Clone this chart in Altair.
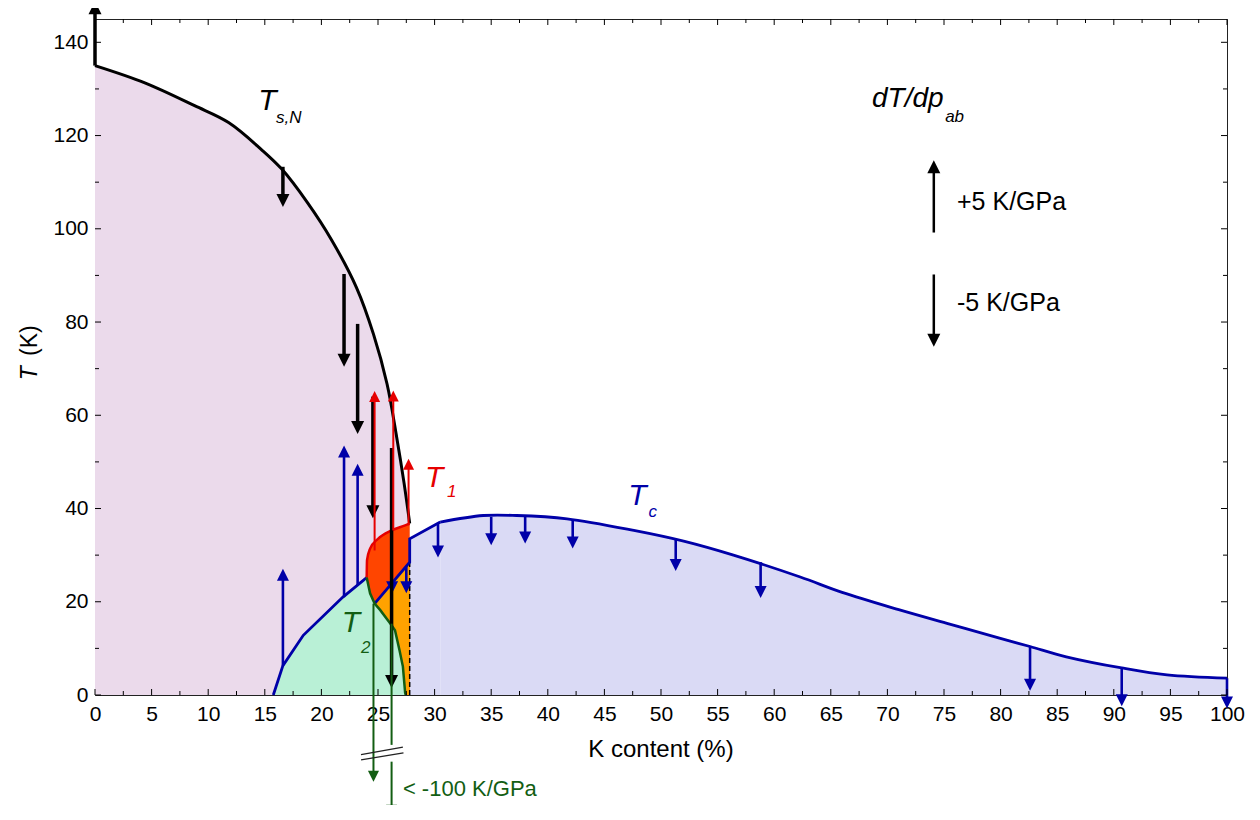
import altair as alt
import pandas as pd

# ---------------- data ----------------
# T_s,N line (K content %, T in K)
ts_x = [0, 4.4, 8.8, 11.8, 14.7, 16.5, 18.8, 20.9, 23.1, 24.6, 25.8, 26.65, 27.3, 27.8]
ts_T = [135, 131.3, 126.4, 122.8, 117.0, 112.8, 105.5, 97.6, 87.4, 77.4, 66.7, 55.3, 45.5, 36.8]

# T_c, low-doping branch
tcl_x = [15.75, 16.6, 18.4, 21.9, 23.7, 24.0]
tcl_T = [0, 6.3, 12.8, 21.0, 24.6, 25.2]

# T_c inside the coexistence region
tcm_x = [24.7, 27.8, 27.8, 30.5]
tcm_T = [19.6, 28.5, 33.5, 37.1]

# T_c, high-doping branch
tcu_x = [30.5, 34.3, 37.25, 41.7, 47.6, 52.0, 56.4, 62.3, 66.0, 71.0, 75.5, 79.9, 82.6, 85.8, 90.7, 94.7, 100]
tcu_T = [37.1, 38.5, 38.5, 37.8, 35.3, 33.0, 30.0, 25.3, 22.0, 18.3, 15.2, 12.2, 10.4, 8.2, 5.8, 4.3, 3.6]

# T_1 and T_2
t1_x = [24.0, 24.03, 24.3, 25.0, 26.2, 27.4, 27.8]
t1_T = [25.2, 28.9, 31.4, 33.5, 35.3, 36.4, 36.8]
t2_x = [24.0, 24.3, 24.7, 25.2, 26.1, 26.5, 26.9, 27.2, 27.4, 27.45]
t2_T = [25.2, 21.8, 19.6, 18.2, 15.3, 13.9, 9.6, 6.1, 0.4, 0]

# dT/dp arrows (x, start T, end T)
ts_arr_x = [0, 16.6, 22.0, 23.2, 24.55, 26.2]
ts_arr_from = [135, 113.3, 90.3, 79.6, 64.0, 53.0]
ts_arr_to = [148.8, 104.7, 70.4, 56.0, 37.9, 1.5]

t1_arr_x = [24.7, 26.35, 27.7]
t1_arr_from = [31.0, 35.3, 36.4]
t1_arr_to = [65.2, 65.3, 50.7]

t2_arr_x = [24.6, 26.2]
t2_arr_from = [19.6, 15.3]
t2_arr_to = [-18.6, -25.9]
t2_gap = [-10.7, -14.3]          # axis break on the second arrow

tc_arr_x = [16.6, 22.0, 23.2, 26.25, 27.5, 30.3, 35.0, 38.0, 42.2, 51.3, 58.8, 82.6, 90.7, 100]
tc_arr_from = [6.3, 21.0, 23.6, 24.05, 27.6, 36.8, 38.2, 38.2, 37.6, 33.6, 28.5, 10.4, 5.8, 3.6]
tc_arr_to = [27.1, 53.5, 49.6, 21.8, 21.8, 29.5, 32.1, 32.5, 31.4, 26.6, 20.8, 0.9, -2.4, -2.9]

key_arr_x = [74.1, 74.1]
key_arr_from = [99.2, 90.2]
key_arr_to = [114.7, 74.7]

brk_x1 = [23.5, 23.5]
brk_x2 = [27.2, 27.25]
brk_T1 = [-12.8, -13.9]
brk_T2 = [-11.2, -12.4]

x_ticks = [0, 5, 10, 15, 20, 25, 30, 35, 40, 45, 50, 55, 60, 65, 70, 75, 80, 85, 90, 95, 100]
x_minor = [2.5, 7.5, 12.5, 17.5, 22.5, 27.5, 32.5, 37.5, 42.5, 47.5, 52.5, 57.5, 62.5, 67.5,
           72.5, 77.5, 82.5, 87.5, 92.5, 97.5]
y_ticks = [0, 20, 40, 60, 80, 100, 120, 140]
y_minor = [10, 30, 50, 70, 90, 110, 130]

# ---------------- styling ----------------
W, H = 1132, 676
X_DOM, Y_DOM = [0, 100], [0, 145]
PX_PER_K = H / (Y_DOM[1] - Y_DOM[0])
FONT = "Liberation Sans"

C_PINK = "#ebdaeb"
C_MINT = "#b9f0d6"
C_LAV = "#dadaf5"
C_RED = "#ff4500"
C_ORANGE = "#ffa200"
C_BLUE = "#0000a8"
C_REDLINE = "#e60000"
C_GREEN = "#135e13"

UP = "M-1,2L1,2L0,0Z"
DOWN = "M-1,-2L1,-2L0,0Z"

xs = alt.Scale(domain=X_DOM, nice=False, zero=False)
ys = alt.Scale(domain=Y_DOM, nice=False, zero=False)
x_axis = alt.Axis(values=x_ticks, ticks=False, domain=False, grid=False, title=None,
                  labelFont=FONT, labelFontSize=21, labelColor="black", labelPadding=8,
                  labelFlush=False, labelOverlap=False)
y_axis = alt.Axis(values=y_ticks, ticks=False, domain=False, grid=False, title=None,
                  labelFont=FONT, labelFontSize=21, labelColor="black", labelPadding=7,
                  labelFlush=False, labelOverlap=False)


def X(f="x"):
    return alt.X(f"{f}:Q", scale=xs, axis=x_axis)


def Y(f="y"):
    return alt.Y(f"{f}:Q", scale=ys, axis=y_axis)


def curve_df(xv, tv):
    return pd.DataFrame({"x": xv, "y": tv, "z": [0] * len(xv), "i": list(range(len(xv)))})


def area(xv, tv, color, interp="linear"):
    return alt.Chart(curve_df(xv, tv)).mark_area(fill=color, opacity=1, interpolate=interp).encode(
        x=X(), y=Y(), y2=alt.Y2("z:Q"))


def line(xv, tv, color, width, interp="linear", ordered=False):
    enc = dict(x=X(), y=Y())
    if ordered:
        enc["order"] = "i:Q"
    return alt.Chart(curve_df(xv, tv)).mark_line(color=color, strokeWidth=width, interpolate=interp).encode(**enc)


def arrows(xv, y0, y1, color, width, head, gap=None):
    hl = head / PX_PER_K * 0.85
    rows = []
    heads = []
    for k, (a, b, c) in enumerate(zip(xv, y0, y1)):
        d = "up" if c > b else "down"
        s = 1 if c > b else -1
        end = c - s * hl
        if gap is not None and gap[k] is not None:
            g1, g2 = gap[k]
            rows.append({"x": a, "y1": b, "y2": g1})
            rows.append({"x": a, "y1": g2, "y2": end})
        else:
            rows.append({"x": a, "y1": b, "y2": end})
        heads.append({"x": a, "y": c, "dir": d})
    r = alt.Chart(pd.DataFrame(rows)).mark_rule(color=color, strokeWidth=width, strokeCap="butt").encode(
        x=X(), y=Y("y1"), y2=alt.Y2("y2:Q"))
    h = alt.Chart(pd.DataFrame(heads)).mark_point(filled=True, color=color, opacity=1, size=head * head,
                                                    strokeWidth=0).encode(
        x=X(), y=Y(),
        shape=alt.Shape("dir:N", scale=alt.Scale(domain=["up", "down"], range=[UP, DOWN]), legend=None))
    return [r, h]


def text(t, x, y, size, color="black", italic=False, align="left", baseline="alphabetic", angle=0):
    df = pd.DataFrame({"x": [x], "y": [y], "t": [t]})
    kw = dict(font=FONT, fontSize=size, color=color, align=align, baseline=baseline)
    if italic:
        kw["fontStyle"] = "italic"
    if angle:
        kw["angle"] = angle
    return alt.Chart(df).mark_text(**kw).encode(x=X(), y=Y(), text="t:N")


layers = []

# filled regions
layers.append(area(ts_x, ts_T, C_PINK, "catmull-rom"))
layers.append(area(tcm_x[2:], tcm_T[2:], C_LAV))
layers.append(area(tcu_x, tcu_T, C_LAV, "catmull-rom"))
layers.append(area(t1_x, t1_T, C_RED, "monotone"))
layers.append(area(tcm_x[:2], tcm_T[:2], C_ORANGE))
layers.append(area(tcl_x + t2_x[1:], tcl_T + t2_T[1:], C_MINT))

# dashed boundary
layers.append(alt.Chart(pd.DataFrame({"x": [tcm_x[1]], "y1": [0], "y2": [tcm_T[1]]})).mark_rule(
    color="black", strokeWidth=1.5, strokeDash=[5, 3]).encode(x=X(), y=Y("y1"), y2=alt.Y2("y2:Q")))

# lines
layers.append(line(ts_x, ts_T, "black", 3, "catmull-rom"))
layers.append(line(tcl_x, tcl_T, C_BLUE, 2.8))
layers.append(line(tcm_x, tcm_T, C_BLUE, 2.8, ordered=True))
layers.append(line(tcu_x, tcu_T, C_BLUE, 2.8, "catmull-rom"))
layers.append(line(t1_x, t1_T, C_REDLINE, 2.5, "monotone"))
layers.append(line(t2_x, t2_T, C_GREEN, 2.5))

# arrows
layers += arrows(tc_arr_x, tc_arr_from, tc_arr_to, C_BLUE, 2.6, 12)
layers += arrows(ts_arr_x, ts_arr_from, ts_arr_to, "black", 3.5, 13)
layers += arrows(t1_arr_x, t1_arr_from, t1_arr_to, C_REDLINE, 2, 11)
layers += arrows(t2_arr_x, t2_arr_from, t2_arr_to, C_GREEN, 2, 11, gap=[None, t2_gap])
layers += arrows(key_arr_x, key_arr_from, key_arr_to, "black", 2.5, 13)

# axis-break marks
layers.append(alt.Chart(pd.DataFrame({"x": brk_x1, "x2": brk_x2, "y": brk_T1, "y2": brk_T2})).mark_rule(
    color="#222222", strokeWidth=1.3).encode(x=X(), x2=alt.X2("x2:Q"), y=Y(), y2=alt.Y2("y2:Q")))


# inward ticks on all four sides
def xtick(vals, y0, y1):
    return alt.Chart(pd.DataFrame({"x": vals})).mark_rule(color="black", strokeWidth=1).encode(
        x=X(), y=alt.value(y0), y2=alt.value(y1))


def ytick(vals, x0, x1):
    return alt.Chart(pd.DataFrame({"y": vals})).mark_rule(color="black", strokeWidth=1).encode(
        y=Y(), x=alt.value(x0), x2=alt.value(x1))


layers += [xtick(x_ticks, H, H - 6), xtick(x_minor, H, H - 4),
           xtick(x_ticks, 0, 6), xtick(x_minor, 0, 4),
           ytick(y_ticks, 0, 6), ytick(y_minor, 0, 4),
           ytick(y_ticks, W, W - 6), ytick(y_minor, W, W - 4)]

# texts
layers += [
    text("T", 14.43, 125.5, 30, italic=True),
    text("s,N", 16.0, 122.6, 17, italic=True),
    text("T", 29.15, 44.6, 30, color=C_REDLINE, italic=True),
    text("1", 31.1, 42.5, 17, color=C_REDLINE, italic=True),
    text("T", 47.1, 40.8, 30, color=C_BLUE, italic=True),
    text("c", 48.9, 38.2, 17, color=C_BLUE, italic=True),
    text("T", 21.8, 13.5, 30, color=C_GREEN, italic=True),
    text("2", 23.5, 9.0, 17, color=C_GREEN, italic=True),
    text("dT/dp", 68.64, 126.2, 28, italic=True),
    text("ab", 75.1, 123.0, 17, italic=True),
    text("+5 K/GPa", 76.15, 104.0, 25),
    text("-5 K/GPa", 76.15, 82.4, 25),
    text("< -100 K/GPa", 27.2, -21.7, 22, color=C_GREEN),
    text("K content (%)", 50, -11.8, 24, align="center", baseline="middle"),
    text("T", -5.75, 69.0, 23, italic=True, align="center", baseline="middle", angle=270),
    text("(K)", -5.75, 76.0, 23, align="center", baseline="middle", angle=270),
]

chart = alt.layer(*layers).properties(
    width=W, height=H,
    autosize=alt.AutoSizeParams(type="none"),
    padding={"left": 87, "top": 11, "right": 25, "bottom": 110},
).configure_view(stroke="#222222", strokeWidth=1)

chart.save("out.html", embed_options={"renderer": "svg", "actions": False})
